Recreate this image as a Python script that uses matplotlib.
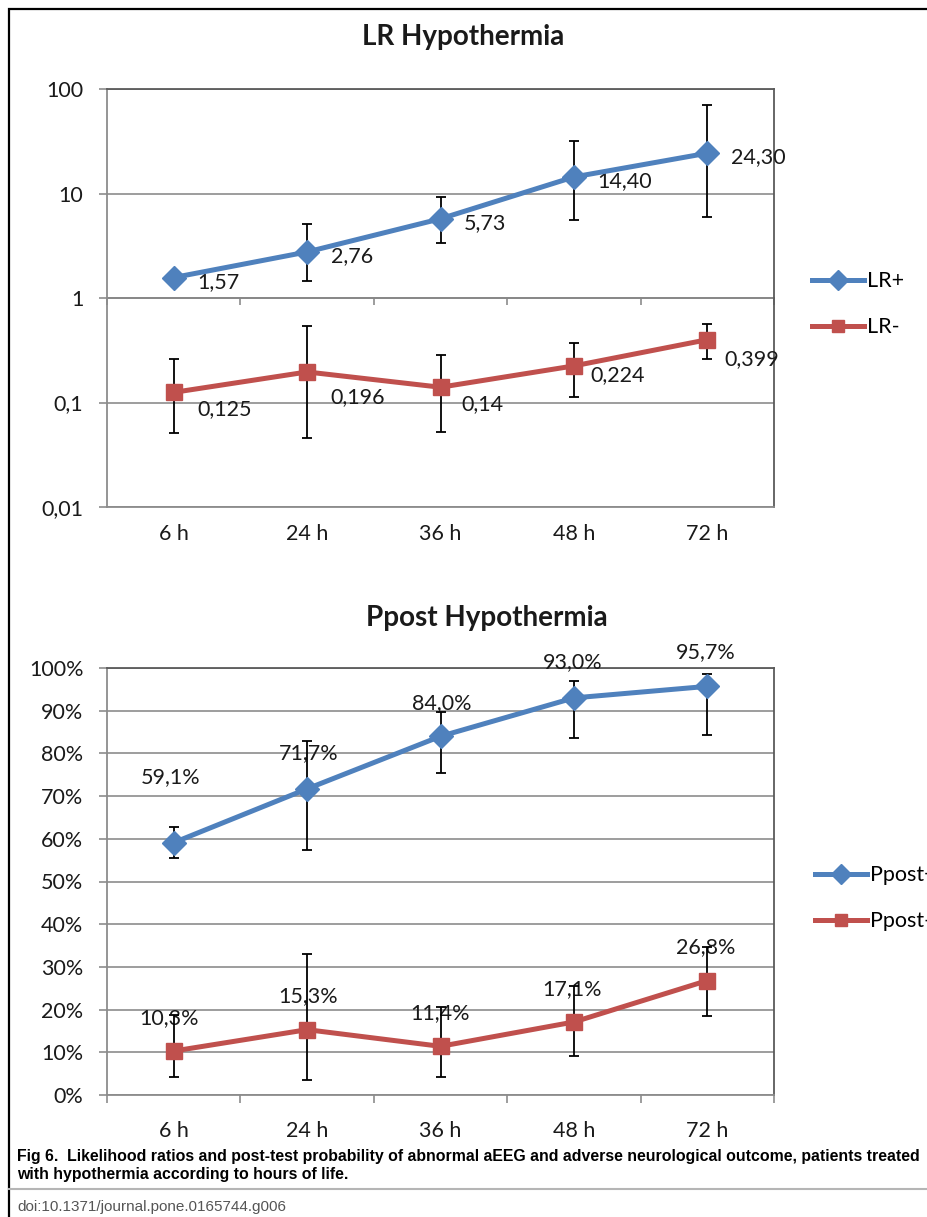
import matplotlib
matplotlib.use("Agg")
import matplotlib.pyplot as plt
from matplotlib.lines import Line2D
from matplotlib.patches import Rectangle
from matplotlib.ticker import FixedLocator, NullLocator, FuncFormatter

plt.rcParams["font.family"] = ["Lato", "DejaVu Sans"]

# ---------------------------------------------------------------
# Data
# ---------------------------------------------------------------
hours = ["6 h", "24 h", "36 h", "48 h", "72 h"]

lr_pos = [1.57, 2.76, 5.73, 14.40, 24.30]
lr_pos_lo = [1.38, 1.46, 3.36, 5.6, 5.96]
lr_pos_hi = [1.78, 5.1, 9.3, 31.8, 70.0]

lr_neg = [0.125, 0.196, 0.14, 0.224, 0.399]
lr_neg_lo = [0.051, 0.046, 0.052, 0.113, 0.26]
lr_neg_hi = [0.26, 0.54, 0.285, 0.37, 0.56]

ppost_pos = [59.1, 71.7, 84.0, 93.0, 95.7]
ppost_pos_lo = [55.5, 57.4, 75.3, 83.6, 84.3]
ppost_pos_hi = [62.8, 82.9, 89.8, 96.9, 98.7]

ppost_neg = [10.3, 15.3, 11.4, 17.1, 26.8]
ppost_neg_lo = [4.2, 3.6, 4.2, 9.1, 18.6]
ppost_neg_hi = [18.7, 33.1, 20.7, 25.6, 34.7]

BLUE = "#4f81bd"
RED = "#c0504d"
GRID = "#8c8c8c"
FRAME = "#5a5a5a"
FS = 15.5

W, H = 927, 1217
fig = plt.figure(figsize=(W / 100, H / 100), dpi=100)


def px_box(left, top, right, bottom):
    return [left / W, 1 - bottom / H, (right - left) / W, (bottom - top) / H]


def draw_series(ax, vals, lo, hi, color, marker, msize, labels, offsets, ha, label):
    x = list(range(len(vals)))
    yerr = [[v - l for v, l in zip(vals, lo)], [h - v for v, h in zip(vals, hi)]]
    ax.errorbar(x, vals, yerr=yerr, fmt="none", ecolor="black",
                elinewidth=1.3, capsize=3.5, capthick=1.3, zorder=4)
    ax.plot(x, vals, color=color, lw=3.6, marker=marker, ms=msize,
            mfc=color, mec=color, zorder=5, label=label)
    for xi, v, txt, off in zip(x, vals, labels, offsets):
        ax.annotate(txt, (xi, v), textcoords="offset points", xytext=off,
                    ha=ha, va="center", fontsize=FS, color="#1a1a1a", zorder=3)


def style_axes(ax):
    ax.set_xlim(-0.5, len(hours) - 0.5)
    for s in ("top", "right"):
        ax.spines[s].set_color(FRAME)
        ax.spines[s].set_linewidth(1.3)
    for s in ("left", "bottom"):
        ax.spines[s].set_color(GRID)
        ax.spines[s].set_linewidth(1.3)
    ax.grid(axis="y", color=GRID, lw=1.2)
    ax.set_axisbelow(True)
    ax.xaxis.set_major_locator(FixedLocator(range(len(hours))))
    ax.set_xticklabels(hours)
    ax.yaxis.set_minor_locator(NullLocator())
    ax.tick_params(axis="y", length=6, color=GRID, width=1.2, pad=11,
                   labelsize=FS, labelcolor="#1a1a1a")


def add_legend(ax, anchor):
    ax.legend(loc="center left", bbox_to_anchor=anchor, frameon=False,
              fontsize=FS, handlelength=2.4, handletextpad=0.15, labelspacing=1.2,
              borderaxespad=0, borderpad=0, markerscale=0.85)


# ---------------------------------------------------------------
# LR chart (log scale)
# ---------------------------------------------------------------
ax1 = fig.add_axes(px_box(107, 89, 774, 507))
ax1.set_yscale("log")
ax1.set_ylim(0.01, 100)
style_axes(ax1)
ax1.set_yticks([0.01, 0.1, 1, 10, 100])
ax1.set_yticklabels(["0,01", "0,1", "1", "10", "100"])
ax1.yaxis.set_minor_locator(NullLocator())
ax1.tick_params(axis="x", length=0, pad=12, labelsize=FS, labelcolor="#1a1a1a")

# category axis crosses at 1
sec = ax1.secondary_xaxis(0.5)
sec.set_alignment("bottom")
sec.set_xticks([i - 0.5 for i in range(len(hours) + 1)])
sec.tick_params(axis="x", length=5, width=1.2, color=GRID, labelbottom=False,
                labeltop=False, direction="out")
sec.spines["bottom"].set_color("#6f6f6f")
sec.spines["bottom"].set_linewidth(1.3)

lr_pos_txt = [f"{v:.2f}".replace(".", ",") for v in lr_pos]
lr_neg_txt = [f"{v:g}".replace(".", ",") for v in lr_neg]
draw_series(ax1, lr_pos, lr_pos_lo, lr_pos_hi, BLUE, "D", 12, lr_pos_txt,
            [(17, -3)] * 5, "left", "LR+")
draw_series(ax1, lr_neg, lr_neg_lo, lr_neg_hi, RED, "s", 11, lr_neg_txt,
            [(17, -12), (17, -18), (15, -12), (12, -6.5), (12, -14)], "left", "LR-")

add_legend(ax1, (1.057, 0.485))

fig.text(463 / W, 1 - 37 / H, "LR Hypothermia", ha="center", va="center",
         fontsize=20, fontweight="bold", color="#1a1a1a")

# ---------------------------------------------------------------
# Ppost chart
# ---------------------------------------------------------------
ax2 = fig.add_axes(px_box(107, 668, 774, 1095))
ax2.set_ylim(0, 100)
style_axes(ax2)
ax2.set_yticks(range(0, 101, 10))
ax2.yaxis.set_major_formatter(FuncFormatter(lambda v, p: f"{v:.0f}%"))
ax2.xaxis.set_minor_locator(FixedLocator([i - 0.5 for i in range(len(hours) + 1)]))
ax2.tick_params(axis="x", which="major", length=0, pad=19, labelsize=FS,
                labelcolor="#1a1a1a")
ax2.tick_params(axis="x", which="minor", length=6, width=1.2, color=GRID)

pp_pos_txt = [f"{v:.1f}%".replace(".", ",") for v in ppost_pos]
pp_neg_txt = [f"{v:.1f}%".replace(".", ",") for v in ppost_neg]
draw_series(ax2, ppost_pos, ppost_pos_lo, ppost_pos_hi, BLUE, "D", 12, pp_pos_txt,
            [(-2, 47), (1, 26), (1, 24), (-1, 26), (-1, 25)], "center", "Ppost+")
draw_series(ax2, ppost_neg, ppost_neg_lo, ppost_neg_hi, RED, "s", 11, pp_neg_txt,
            [(-3, 24), (1, 24), (0, 24), (-1, 24), (-1, 24)], "center", "Ppost-")

add_legend(ax2, (1.062, 0.461))

fig.text(487 / W, 1 - 618 / H, "Ppost Hypothermia", ha="center", va="center",
         fontsize=20, fontweight="bold", color="#1a1a1a")

# ---------------------------------------------------------------
# Caption and frame
# ---------------------------------------------------------------
cap_font = ["Liberation Sans Narrow", "Liberation Sans", "DejaVu Sans"]
fig.text(17 / W, 1 - 1157 / H,
         "Fig 6.  Likelihood ratios and post-test probability of abnormal aEEG and "
         "adverse neurological outcome, patients treated",
         ha="left", va="center", fontsize=11.4, fontweight="bold", family=cap_font)
fig.text(17 / W, 1 - 1175 / H, "with hypothermia according to hours of life.",
         ha="left", va="center", fontsize=11.4, fontweight="bold", family=cap_font)
fig.add_artist(Line2D([9 / W, 1], [1 - 1189 / H] * 2, color="#b5b5b5", lw=1.5))
fig.text(17 / W, 1 - 1207 / H, "doi:10.1371/journal.pone.0165744.g006",
         ha="left", va="center", fontsize=11, color="#555555", family=cap_font)

fig.add_artist(Rectangle((9 / W, -0.1), 1.2, 1.1 - 9 / H, transform=fig.transFigure,
                         fill=False, ec="black", lw=1.6))

fig.savefig("out.png", dpi=100)
